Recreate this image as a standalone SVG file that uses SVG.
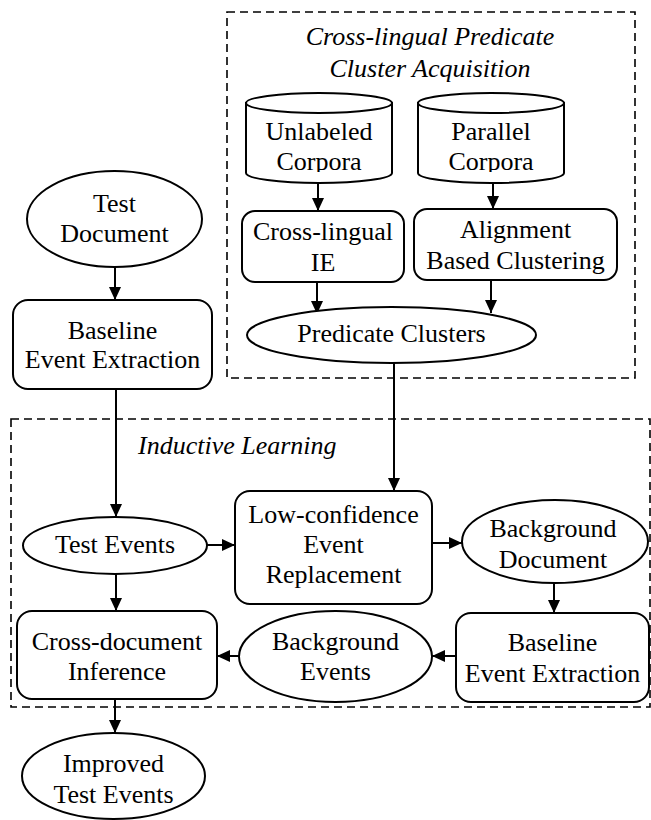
<svg xmlns="http://www.w3.org/2000/svg" width="651" height="820" viewBox="0 0 651 820">
<style>
.s{fill:#fff;stroke:#000;stroke-width:2}
.d{fill:none;stroke:#000;stroke-width:1.6;stroke-dasharray:8,5}
.t{font-family:"Liberation Serif","Times New Roman",serif;font-size:26px;fill:#000;text-anchor:middle}
.i{font-style:italic}
.c{stroke:#000;stroke-width:2;fill:none;marker-end:url(#a)}
</style>
<defs>
<marker id="a" markerUnits="userSpaceOnUse" markerWidth="14" markerHeight="14" viewBox="0 0 14 14" refX="13" refY="7" orient="auto">
<path d="M0,1 L13,7 L0,13 Z" fill="#000"/>
</marker>
<clipPath id="cc"><rect x="0" y="0" width="651" height="172"/></clipPath>
</defs>
<rect x="0" y="0" width="651" height="820" fill="#fff"/>

<g id="cluster-acquisition">
<rect class="d" x="227" y="12" width="408" height="366"/>
<text class="t i" x="430" y="45">Cross-lingual Predicate</text>
<text class="t i" x="430" y="77">Cluster Acquisition</text>
</g>
<g id="inductive-learning">
<rect class="d" x="11" y="419" width="639" height="288"/>
<text class="t i" x="138" y="454" style="text-anchor:start">Inductive Learning</text>
</g>

<g id="connectors">
<line class="c" x1="318" y1="183" x2="318" y2="211"/>
<line class="c" x1="493" y1="183" x2="493" y2="209"/>
<line class="c" x1="317" y1="282" x2="317" y2="314"/>
<line class="c" x1="491" y1="280" x2="491" y2="313"/>
<line class="c" x1="394" y1="363" x2="394" y2="491"/>
<line class="c" x1="115" y1="267" x2="115" y2="300"/>
<line class="c" x1="116" y1="389" x2="116" y2="517"/>
<line class="c" x1="207" y1="545" x2="235" y2="545"/>
<line class="c" x1="432" y1="543" x2="462" y2="543"/>
<line class="c" x1="554" y1="583" x2="554" y2="613"/>
<line class="c" x1="456" y1="656" x2="432" y2="656"/>
<line class="c" x1="239" y1="656" x2="217" y2="656"/>
<line class="c" x1="116" y1="574" x2="116" y2="611"/>
<line class="c" x1="115" y1="699" x2="115" y2="733"/>
</g>

<g id="unlabeled-corpora">
<path class="s" d="M246,103 L246,173 A73,10 0 0 0 392,173 L392,103 Z"/>
<ellipse class="s" cx="319" cy="103" rx="73" ry="10"/>
<text class="t" x="319" y="140">Unlabeled</text>
<text class="t" x="319" y="170" clip-path="url(#cc)">Corpora</text>
</g>
<g id="parallel-corpora">
<path class="s" d="M418,103 L418,173 A73,10 0 0 0 564,173 L564,103 Z"/>
<ellipse class="s" cx="491" cy="103" rx="73" ry="10"/>
<text class="t" x="491" y="140">Parallel</text>
<text class="t" x="491" y="170" clip-path="url(#cc)">Corpora</text>
</g>
<g id="cross-lingual-ie">
<rect class="s" x="242" y="211" width="162" height="71" rx="13"/>
<text class="t" x="323" y="240">Cross-lingual</text>
<text class="t" x="323" y="271">IE</text>
</g>
<g id="alignment-clustering">
<rect class="s" x="414" y="209" width="203" height="71" rx="13"/>
<text class="t" x="515.5" y="238">Alignment</text>
<text class="t" x="515.5" y="269">Based Clustering</text>
</g>
<g id="predicate-clusters">
<ellipse class="s" cx="391.5" cy="335" rx="144.5" ry="28"/>
<text class="t" x="391.5" y="342">Predicate Clusters</text>
</g>
<g id="test-document">
<ellipse class="s" cx="114.5" cy="219" rx="87.5" ry="48"/>
<text class="t" x="114.5" y="212">Test</text>
<text class="t" x="114.5" y="242">Document</text>
</g>
<g id="baseline-1">
<rect class="s" x="13" y="300" width="199" height="89" rx="15"/>
<text class="t" x="112.5" y="339">Baseline</text>
<text class="t" x="112.5" y="368">Event Extraction</text>
</g>
<g id="test-events">
<ellipse class="s" cx="115" cy="545.5" rx="92" ry="28.5"/>
<text class="t" x="115" y="553">Test Events</text>
</g>
<g id="low-confidence">
<rect class="s" x="235" y="491" width="197" height="113" rx="15"/>
<text class="t" x="333.5" y="523">Low-confidence</text>
<text class="t" x="333.5" y="553">Event</text>
<text class="t" x="333.5" y="583">Replacement</text>
</g>
<g id="background-document">
<ellipse class="s" cx="555" cy="541.5" rx="93" ry="41.5"/>
<text class="t" x="553" y="537">Background</text>
<text class="t" x="553" y="568">Document</text>
</g>
<g id="baseline-2">
<rect class="s" x="456" y="613" width="193" height="89" rx="15"/>
<text class="t" x="552.5" y="651">Baseline</text>
<text class="t" x="552.5" y="682">Event Extraction</text>
</g>
<g id="background-events">
<ellipse class="s" cx="335.5" cy="656.5" rx="96.5" ry="45.5"/>
<text class="t" x="335.5" y="650">Background</text>
<text class="t" x="335.5" y="680">Events</text>
</g>
<g id="cross-document">
<rect class="s" x="17" y="611" width="200" height="88" rx="15"/>
<text class="t" x="117" y="650">Cross-document</text>
<text class="t" x="117" y="680">Inference</text>
</g>
<g id="improved-test-events">
<ellipse class="s" cx="113.5" cy="776" rx="91.5" ry="43"/>
<text class="t" x="113.5" y="772">Improved</text>
<text class="t" x="113.5" y="803">Test Events</text>
</g>
</svg>
